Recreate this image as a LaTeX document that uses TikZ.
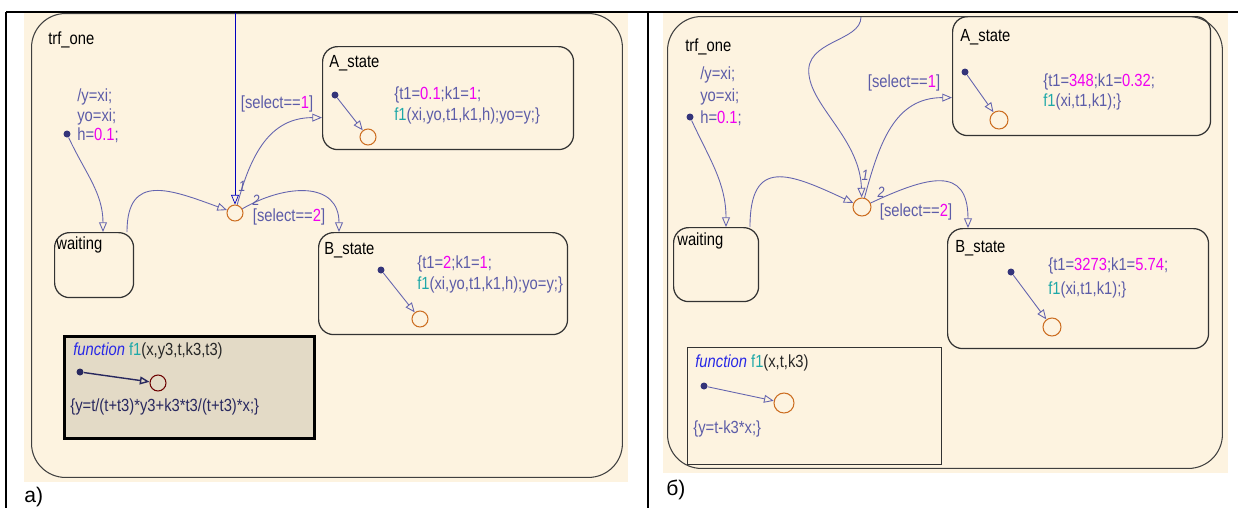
\documentclass[tikz,border=0pt]{standalone}
\usepackage{fontspec}
\setmainfont{Liberation Sans}[FakeStretch=0.84]
\newfontfamily\capfont{Liberation Sans}
\usepackage{tikz}
\usetikzlibrary{arrows.meta,positioning}
\definecolor{sfcream}{RGB}{253,243,224}
\definecolor{sftext}{RGB}{92,92,168}
\definecolor{sfmag}{RGB}{240,0,240}
\definecolor{sfteal}{RGB}{30,168,168}
\definecolor{sffunc}{RGB}{40,40,230}
\definecolor{sfline}{RGB}{100,100,175}
\definecolor{sfjunc}{RGB}{204,110,34}
\definecolor{sfdot}{RGB}{52,52,122}
\definecolor{sffill}{RGB}{227,218,198}
\definecolor{sfdark}{RGB}{40,40,95}
\newcommand{\sfval}[1]{\textcolor{sfmag}{#1}}
\newcommand{\sffun}[1]{\textcolor{sfteal}{#1}}

\begin{document}
\begin{tikzpicture}[x=0.02cm,y=0.02cm,
  every node/.style={font=\fontsize{10}{11}\selectfont},
  chart/.style={draw=black!75,line width=0.6pt,rounded corners=0.68cm,anchor=north west,inner sep=0pt},
  sfstate/.style={draw=black!80,line width=0.7pt,rounded corners=0.3cm,anchor=north west,inner sep=0pt},
  sfname/.style={anchor=west,inner sep=0pt,text=black},
  sfcode/.style={anchor=west,inner sep=0pt,align=left,text=sftext},
  sfjunc/.style={circle,draw=sfjunc,line width=0.6pt,minimum size=0.32cm,inner sep=0pt},
  sfdflt/.style={circle,fill=sfdot,minimum size=0.14cm,inner sep=0pt},
  sftrans/.style={draw=sfline,line width=0.5pt,-{Triangle[open,length=5.5pt,width=4.5pt]}},
  sfguard/.style={inner sep=0pt,text=sftext},
  sforder/.style={inner sep=0pt,text=sftext,font=\fontsize{8.5}{9}\selectfont\itshape}]
  \useasboundingbox (0,0) rectangle (1238,-508);

  % backgrounds
  \fill[sfcream] (24,-13) rectangle (628,-482);
  \fill[sfcream] (663,-13) rectangle (1228,-473);

  % ---------- a) ----------
  \node[chart,minimum width=11.82cm,minimum height=9.28cm] (trfA) at (31,-13) {};
  \node[sfname] (trfAname) at (48,-40) {trf\_one};
  \node[sfcode,font=\fontsize{10}{11.2}\selectfont] (entA) at (77,-116)
    {/y=xi;\\ yo=xi;\\ h=\sfval{0.1};};
  \node[sfdflt] (dfltA) at (67,-134) {};

  \node[sfstate,minimum width=1.58cm,minimum height=1.3cm] (waitA) at (54,-232) {};
  \node[sfname] at (56,-245) {waiting};

  \node[sfjunc] (jA) at (235,-213) {};
  \coordinate (topA) at (235,-13);

  \node[sfstate,minimum width=5.02cm,minimum height=2.06cm] (aStateA) at (322,-46) {};
  \node[sfname] at (329,-63) {A\_state};
  \node[sfdflt] (aDotA) at (335,-95) {};
  \node[sfjunc] (aEndA) at (368,-137) {};
  \node[sfcode,font=\fontsize{10}{11.9}\selectfont] at (394,-105.5)
    {\{t1=\sfval{0.1};k1=\sfval{1};\\ \sffun{f1}(xi,yo,t1,k1,h);yo=y;\}};

  \node[sfstate,minimum width=4.98cm,minimum height=2.04cm] (bStateA) at (318,-232) {};
  \node[sfname] at (324,-250) {B\_state};
  \node[sfdflt] (bDotA) at (381,-270) {};
  \node[sfjunc] (bEndA) at (420,-319) {};
  \node[sfcode,font=\fontsize{10}{11.9}\selectfont] at (417,-274.5)
    {\{t1=\sfval{2};k1=\sfval{1};\\ \sffun{f1}(xi,yo,t1,k1,h);yo=y;\}};

  \node[draw=black,fill=sffill,line width=1.7pt,anchor=north west,inner sep=0pt,
    minimum width=5.0cm,minimum height=2.04cm] (funA) at (63,-335) {};
  \node[sfname,text=black!85] at (73,-351)
    {\textcolor{sffunc}{\itshape function} \sffun{f1}(x,y3,t,k3,t3)};
  \node[sfdflt,fill=sfdark] (fDotA) at (80,-372) {};
  \node[sfjunc,draw=black!40!red!70!black] (fEndA) at (158,-383) {};
  \node[sfcode,text=sfdark] at (70,-407) {\{y=t/(t+t3)*y3+k3*t3/(t+t3)*x;\}};

  % transitions a)
  \draw[sftrans] (dfltA) to[out=-65,in=90] ([xshift=0.98cm]waitA.north west);
  \draw[sftrans,draw=blue!75!black,line width=0.4pt] (topA) -- (jA);
  \draw[sftrans] ([xshift=1.46cm]waitA.north west) to[out=90,in=160,looseness=1.5] (jA);
  \draw[sftrans] (jA) to[out=75,in=180,looseness=1.1] ([yshift=-0.39cm]aStateA.west);
  \draw[sftrans] (jA) to[out=30,in=90,looseness=1.3] ([xshift=0.42cm]bStateA.north west);
  \node[sforder] at (242,-186) {1};
  \node[sforder] at (256,-200) {2};
  \node[sfguard] at (277,-104) {[select==\sfval{1}]};
  \node[sfguard] at (289,-217) {[select==\sfval{2}]};
  \draw[sftrans] (aDotA) -- (aEndA);
  \draw[sftrans] (bDotA) -- (bEndA);
  \draw[sftrans,draw=sfdark,line width=0.8pt] (fDotA) -- (fEndA);

  % ---------- b) ----------
  \node[chart,minimum width=11.1cm,minimum height=9.04cm] (trfB) at (667,-16) {};
  \node[sfname] (trfBname) at (685,-47) {trf\_one};
  \node[sfcode,font=\fontsize{10}{12.5}\selectfont] (entB) at (700,-96)
    {/y=xi;\\ yo=xi;\\ h=\sfval{0.1};};
  \node[sfdflt] (dfltB) at (690,-117) {};

  \node[sfstate,minimum width=1.7cm,minimum height=1.48cm] (waitB) at (673,-227) {};
  \node[sfname] at (677,-241) {waiting};

  \node[sfjunc,minimum size=0.36cm] (jB) at (862,-207) {};
  \coordinate (topB) at (861,-17);

  \node[sfstate,minimum width=5.16cm,minimum height=2.38cm] (aStateB) at (952,-16) {};
  \node[sfname] at (960,-37) {A\_state};
  \node[sfdflt] (aDotB) at (965,-72) {};
  \node[sfjunc,minimum size=0.36cm] (aEndB) at (999,-120) {};
  \node[sfcode,font=\fontsize{10}{11.4}\selectfont] at (1043,-92)
    {\{t1=\sfval{348};k1=\sfval{0.32};\\ \sffun{f1}(xi,t1,k1);\}};

  \node[sfstate,minimum width=5.22cm,minimum height=2.4cm] (bStateB) at (947,-228) {};
  \node[sfname] at (955,-248) {B\_state};
  \node[sfdflt] (bDotB) at (1011,-272) {};
  \node[sfjunc,minimum size=0.36cm] (bEndB) at (1052,-327) {};
  \node[sfcode,font=\fontsize{10}{13.6}\selectfont] at (1048,-278)
    {\{t1=\sfval{3273};k1=\sfval{5.74};\\ \sffun{f1}(xi,t1,k1);\}};

  \node[draw=black!80,line width=0.6pt,anchor=north west,inner sep=0pt,
    minimum width=5.08cm,minimum height=2.34cm] (funB) at (687,-347) {};
  \node[sfname,text=black!85] at (695,-363)
    {\textcolor{sffunc}{\itshape function} \sffun{f1}(x,t,k3)};
  \node[sfdflt] (fDotB) at (704,-386) {};
  \node[sfjunc,minimum size=0.4cm] (fEndB) at (784,-403) {};
  \node[sfcode] at (693,-429) {\{y=t-k3*x;\}};

  % transitions b)
  \draw[sftrans] (dfltB) to[out=-65,in=90] ([xshift=1.06cm]waitB.north west);
  \draw[sftrans] (topB) .. controls (861,-42) and (804,-40) .. (809,-75)
    .. controls (813,-108) and (860,-140) .. (jB);
  \draw[sftrans] ([xshift=1.54cm]waitB.north west) to[out=90,in=155,looseness=1.7] (jB);
  \draw[sftrans] (jB) to[out=75,in=180,looseness=1.1] ([yshift=-0.43cm]aStateB.west);
  \draw[sftrans] (jB) to[out=25,in=90,looseness=1.6] ([xshift=0.42cm]bStateB.north west);
  \node[sforder] at (865,-175) {1};
  \node[sforder] at (881,-192) {2};
  \node[sfguard] at (904,-83) {[select==\sfval{1}]};
  \node[sfguard] at (916,-212) {[select==\sfval{2}]};
  \draw[sftrans] (aDotB) -- (aEndB);
  \draw[sftrans] (bDotB) -- (bEndB);
  \draw[sftrans] (fDotB) -- (fEndB);

  % table rules and captions
  \draw[line width=1.6pt] (6,-12) -- (1238,-12);
  \draw[line width=0.9pt] (6,-12) -- (6,-508);
  \draw[line width=1pt] (648,-12) -- (648,-508);
  \node[anchor=west,inner sep=0pt,font=\capfont\fontsize{12}{14}\selectfont] (capA) at (24,-497) {а)};
  \node[anchor=west,inner sep=0pt,font=\capfont\fontsize{12}{14}\selectfont] (capB) at (666,-490) {б)};
\end{tikzpicture}
\end{document}
